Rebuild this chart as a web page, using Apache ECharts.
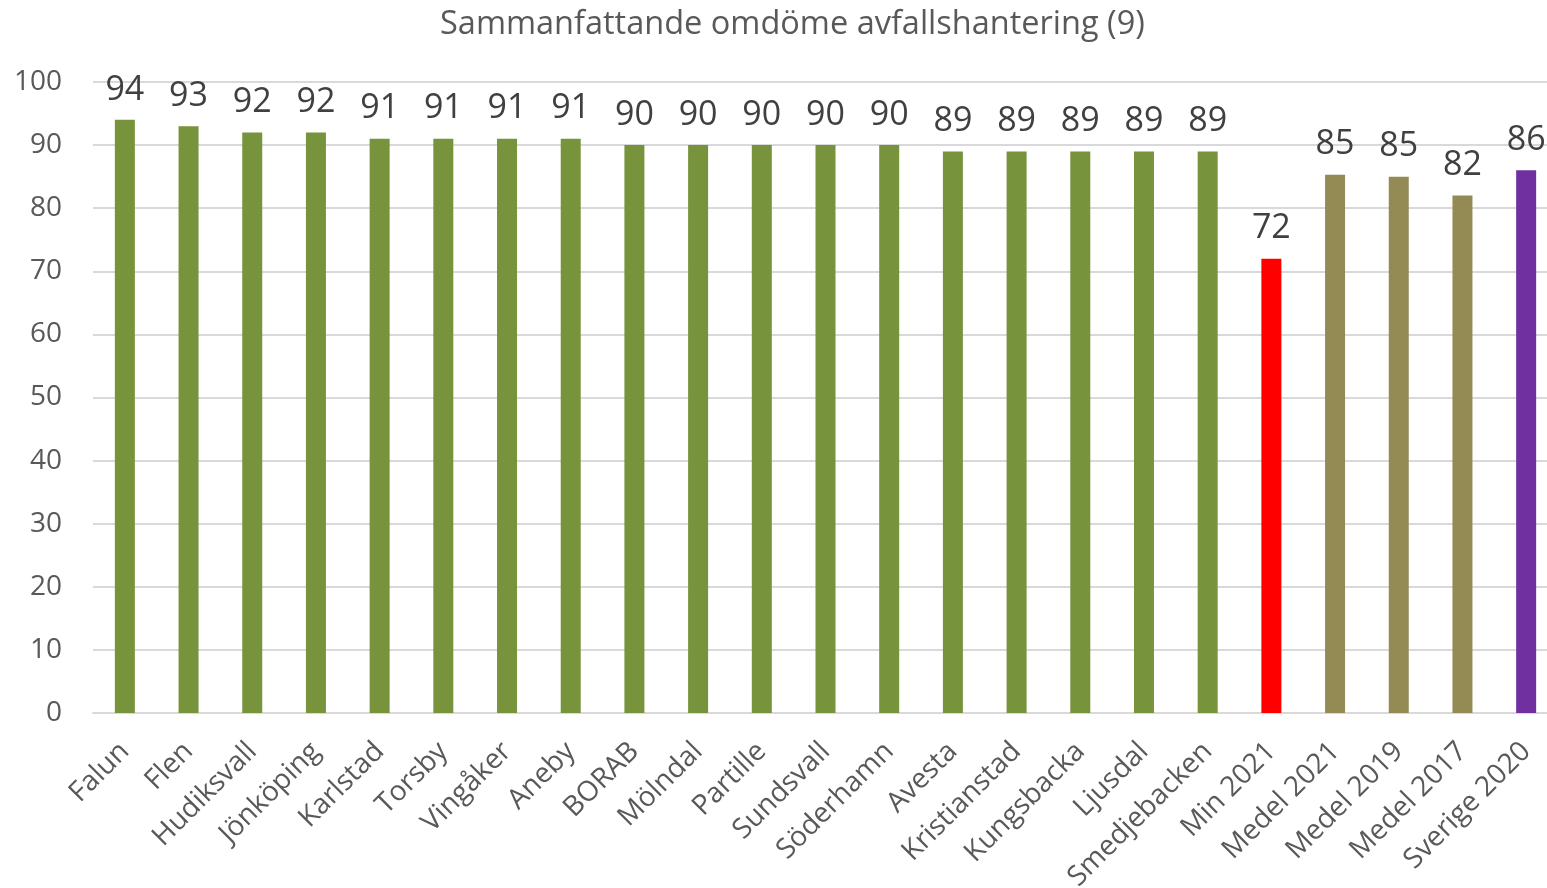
<!DOCTYPE html>
<html><head><meta charset="utf-8">
<script src="https://cdn.jsdelivr.net/npm/echarts@6/dist/echarts.min.js"></script>
<style>html,body{margin:0;padding:0;background:#fff;overflow:hidden;width:1547px;height:888px}#wrap{width:1547px;height:888px;overflow:hidden;position:relative}#c{width:1558px;height:888px;position:absolute;left:0;top:0}</style>
</head><body><div id="wrap"><div id="c"></div></div>
<script>
const categories = ["Falun","Flen","Hudiksvall","Jönköping","Karlstad","Torsby","Vingåker","Aneby","BORAB","Mölndal","Partille","Sundsvall","Söderhamn","Avesta","Kristianstad","Kungsbacka","Ljusdal","Smedjebacken","Min 2021","Medel 2021","Medel 2019","Medel 2017","Sverige 2020"];
const values = [94,93,92,92,91,91,91,91,90,90,90,90,90,89,89,89,89,89,72,85.3,85,82,86];
const barColors = ["#77933C","#77933C","#77933C","#77933C","#77933C","#77933C","#77933C","#77933C","#77933C","#77933C","#77933C","#77933C","#77933C","#77933C","#77933C","#77933C","#77933C","#77933C","#FF0000","#948A54","#948A54","#948A54","#7030A0"];
const titleText = "Sammanfattande omdöme avfallshantering (9)";

const FONT = "'Open Sans', 'Noto Sans', sans-serif";
const chart = echarts.init(document.getElementById('c'), null, {renderer:'canvas'});
chart.setOption({
  animation:false,
  backgroundColor:'#fff',
  title:{text:titleText,left:435,top:3,textStyle:{fontFamily:FONT,fontSize:32.5,fontWeight:'normal',color:'#595959'}},
  grid:{left:93,top:82,bottom:175,right:0,containLabel:false,outerBoundsMode:'none'},
  xAxis:{type:'category',data:categories,
    axisLine:{lineStyle:{color:'#D9D9D9',width:2}},
    axisTick:{show:false},
    axisLabel:{interval:0,rotate:45,fontFamily:FONT,fontSize:28,color:'#595959',margin:34}},
  yAxis:{type:'value',min:0,max:100,interval:10,
    axisLine:{show:false},axisTick:{show:false},
    splitLine:{lineStyle:{color:'#D9D9D9',width:2}},
    axisLabel:{fontFamily:FONT,fontSize:28,color:'#595959',margin:31}},
  series:[{type:'bar',barWidth:20,
    data:values.map((v,i)=>({value:v,itemStyle:{color:barColors[i]}})),
    label:{show:true,position:'top',distance:13,fontFamily:FONT,fontSize:34,color:'#404040',
      formatter:p=>Math.round(p.value)}}]
});
</script></body></html>
